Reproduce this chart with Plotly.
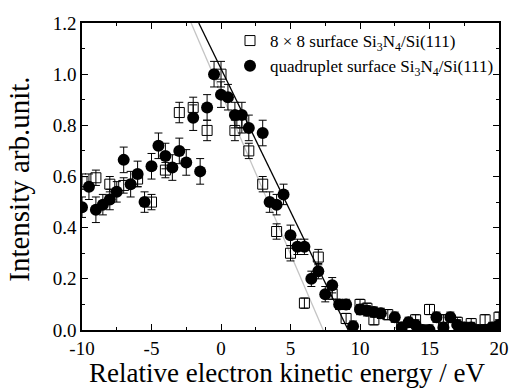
import plotly.graph_objects as go

# Open squares: 8x8 surface
sq_x = [-10, -9, -8, -7, -6, -5, -4, -3, -2, -1, 0, 1, 1.5, 2, 3, 4, 5, 6, 7, 8, 9, 10, 10.5, 11, 12, 13, 14, 15, 16, 17, 18, 19, 20]
sq_y = [0.58, 0.595, 0.57, 0.565, 0.59, 0.50, 0.625, 0.85, 0.87, 0.78, 1.0, 0.78, 0.81, 0.70, 0.57, 0.385, 0.30, 0.105, 0.285, 0.14, 0.045, 0.10, 0.085, 0.04, 0.06, 0.01, 0.04, 0.08, 0.04, 0.03, 0.025, 0.04, 0.05]
sq_err = [0.03, 0.03, 0.03, 0.03, 0.03, 0.03, 0.03, 0.04, 0.04, 0.04, 0.05, 0.04, 0.04, 0.03, 0.03, 0.03, 0.03, 0.02, 0.03, 0.02, 0.02, 0.02, 0.02, 0.02, 0.02, 0.02, 0.02, 0.02, 0.02, 0.02, 0.02, 0.02, 0.02]

# Filled circles: quadruplet surface
ci_x = [-10, -9.5, -9, -8.5, -8, -7.5, -7, -6.5, -6, -5.5, -5, -4.5, -4, -3.5, -3, -2.5, -2, -1.5, -1, -0.5, 0, 0.5, 1, 1.5, 2, 3, 3.5, 4, 4.5, 5, 5.5, 6, 6.5, 7, 7.5, 8, 8.5, 9, 9.5, 10, 10.5, 11, 11.5, 12.5, 13, 13.5, 14, 14.5, 15, 15.5, 16, 16.5, 17, 17.5, 18, 18.5, 19, 19.5, 20]
ci_y = [0.48, 0.56, 0.47, 0.49, 0.51, 0.54, 0.665, 0.57, 0.61, 0.50, 0.64, 0.72, 0.68, 0.635, 0.70, 0.655, 0.83, 0.62, 0.87, 1.0, 0.92, 0.91, 0.84, 0.84, 0.79, 0.77, 0.50, 0.49, 0.53, 0.37, 0.325, 0.325, 0.20, 0.23, 0.14, 0.175, 0.10, 0.10, 0.015, 0.08, 0.075, 0.07, 0.065, 0.05, 0.01, 0.03, 0.02, 0.0, 0.0, 0.05, 0.01, 0.05, 0.02, 0.01, 0.01, 0.0, 0.0, 0.01, 0.02]
ci_err = [0.04, 0.05, 0.05, 0.04, 0.04, 0.04, 0.05, 0.05, 0.05, 0.04, 0.05, 0.05, 0.05, 0.05, 0.05, 0.05, 0.05, 0.05, 0.05, 0.05, 0.05, 0.05, 0.05, 0.05, 0.05, 0.05, 0.04, 0.04, 0.04, 0.04, 0.03, 0.03, 0.03, 0.03, 0.03, 0.03, 0.02, 0.02, 0.02, 0.02, 0.02, 0.02, 0.02, 0.02, 0.02, 0.02, 0.02, 0.02, 0.02, 0.02, 0.02, 0.02, 0.02, 0.02, 0.02, 0.02, 0.02, 0.02, 0.02]

# Linear fits (edge extrapolations)
fit_black_x = [-1.6, 9.15]
fit_black_y = [1.2, 0.0]
fit_gray_x = [-2.15, 7.35]
fit_gray_y = [1.2, 0.0]

# Tick labels
x_tickvals = [-10, -5, 0, 5, 10, 15, 20]
x_ticktext = ["-10", "-5", "0", "5", "10", "15", "20"]
y_tickvals = [0.0, 0.2, 0.4, 0.6, 0.8, 1.0, 1.2]
y_ticktext = ["0.0", "0.2", "0.4", "0.6", "0.8", "1.0", "1.2"]

x_title = "Relative electron kinetic energy / eV"
y_title = "Intensity arb.unit."

font = "Liberation Serif, Times New Roman, serif"

fig = go.Figure()
fig.add_trace(go.Scatter(x=fit_gray_x, y=fit_gray_y, mode="lines",
                         line=dict(color="#c4c4c4", width=1.3), showlegend=False))
fig.add_trace(go.Scatter(x=fit_black_x, y=fit_black_y, mode="lines",
                         line=dict(color="black", width=1.3), showlegend=False))
fig.add_trace(go.Scatter(
    x=sq_x, y=sq_y, mode="markers",
    name="8 × 8 surface Si<sub>3</sub>N<sub>4</sub>/Si(111)",
    marker=dict(symbol="square-open", size=10, color="black", line=dict(width=1)),
    error_y=dict(type="data", array=sq_err, color="black", thickness=1, width=4)))
fig.add_trace(go.Scatter(
    x=ci_x, y=ci_y, mode="markers",
    name="quadruplet surface Si<sub>3</sub>N<sub>4</sub>/Si(111)",
    marker=dict(symbol="circle", size=12, color="black"),
    error_y=dict(type="data", array=ci_err, color="black", thickness=1, width=4)))

axis_common = dict(showline=True, linecolor="black", linewidth=1.5, mirror="ticks",
                   ticks="inside", ticklen=6, tickcolor="black", tickwidth=1.2,
                   showgrid=False, zeroline=False, automargin=False,
                   tickfont=dict(family=font, size=19, color="black"))

fig.update_xaxes(range=[-10, 20], tickmode="array", tickvals=x_tickvals, ticktext=x_ticktext,
                 minor=dict(ticks="inside", ticklen=3, dtick=2.5, tick0=-10, tickcolor="black"),
                 **axis_common)
fig.update_yaxes(range=[0, 1.2], tickmode="array", tickvals=y_tickvals, ticktext=y_ticktext,
                 minor=dict(ticks="inside", ticklen=3, dtick=0.1, tick0=0, tickcolor="black"),
                 **axis_common)

fig.add_annotation(text=x_title, xref="paper", yref="paper", x=0.494, y=-0.194,
                   xanchor="center", yanchor="bottom", showarrow=False,
                   font=dict(family=font, size=27, color="black"))
fig.add_annotation(text=y_title, xref="paper", yref="paper", x=-0.153, y=0.49,
                   xanchor="center", yanchor="middle", showarrow=False, textangle=-90,
                   font=dict(family=font, size=29, color="black"))

fig.update_layout(
    width=512, height=388,
    margin=dict(l=82, r=13, t=23, b=58),
    plot_bgcolor="white", paper_bgcolor="white",
    legend=dict(x=1.0, y=1.0, xanchor="right", yanchor="top",
                bgcolor="rgba(0,0,0,0)", borderwidth=0,
                font=dict(family=font, size=17, color="black"),
                tracegroupgap=0, itemsizing="trace"),
)

fig.write_html("out.html")
